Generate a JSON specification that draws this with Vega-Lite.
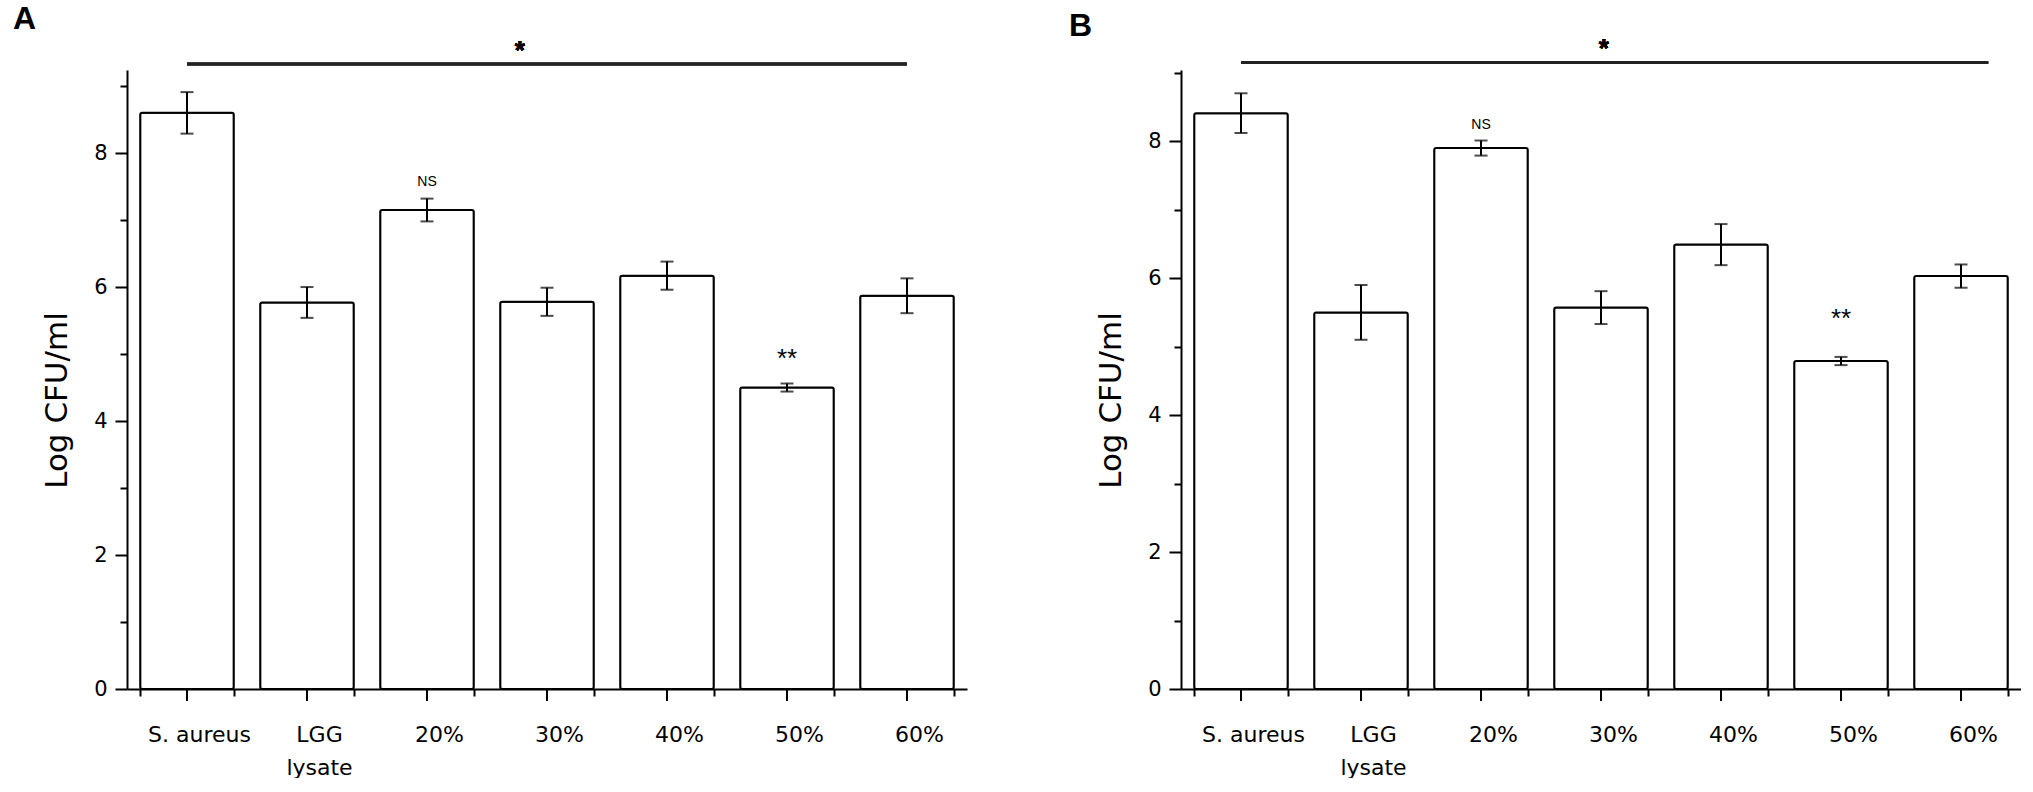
{
  "$schema": "https://vega.github.io/schema/vega-lite/v6.json",
  "background": "white",
  "padding": {"left": 13, "top": 3, "right": 0, "bottom": 0},
  "spacing": 102,
  "config": {
    "view": {"stroke": null},
    "font": "DejaVu Sans",
    "axis": {
      "domainColor": "black",
      "domainWidth": 2,
      "tickColor": "black",
      "tickWidth": 2,
      "labelColor": "black",
      "titleColor": "black",
      "grid": false
    },
    "title": {"font": "Liberation Sans", "fontSize": 32, "fontWeight": "bold", "color": "black", "anchor": "start", "frame": "group"}
  },
  "datasets": {
    "a": [
      {"cat": "S. aureus", "mean": 8.6, "sd": 0.31},
      {"cat": "LGG lysate", "mean": 5.77, "sd": 0.23},
      {"cat": "20%", "mean": 7.15, "sd": 0.17},
      {"cat": "30%", "mean": 5.78, "sd": 0.21},
      {"cat": "40%", "mean": 6.17, "sd": 0.21},
      {"cat": "50%", "mean": 4.5, "sd": 0.06},
      {"cat": "60%", "mean": 5.87, "sd": 0.26}
    ],
    "b": [
      {"cat": "S. aureus", "mean": 8.41, "sd": 0.29},
      {"cat": "LGG lysate", "mean": 5.5, "sd": 0.4},
      {"cat": "20%", "mean": 7.9, "sd": 0.11},
      {"cat": "30%", "mean": 5.57, "sd": 0.24},
      {"cat": "40%", "mean": 6.49, "sd": 0.3},
      {"cat": "50%", "mean": 4.79, "sd": 0.06},
      {"cat": "60%", "mean": 6.03, "sd": 0.17}
    ],
    "a_sig": [
      {"cat": "20%", "label": "NS", "y": 7.57},
      {"cat": "50%", "label": "**", "y": 4.93}
    ],
    "b_sig": [
      {"cat": "20%", "label": "NS", "y": 8.24},
      {"cat": "50%", "label": "**", "y": 5.41}
    ]
  },
  "hconcat": [
    {
      "width": 840,
      "height": 619,
      "title": {"text": "A", "dx": -114, "offset": 2},
      "data": {"name": "a"},
      "encoding": {
        "x": {
          "field": "cat", "type": "nominal", "sort": null,
          "scale": {"paddingInner": 0.22, "paddingOuter": 0.11},
          "axis": {
            "title": null, "tickBand": "extent", "tickSize": 7, "labelAngle": 0,
            "labelFontSize": 22, "labelPadding": 28, "labelOffset": 12, "labelLineHeight": 33,
            "labelExpr": "datum.label == 'LGG lysate' ? ['LGG', 'lysate'] : datum.label"
          }
        }
      },
      "layer": [
        {
          "mark": {"type": "bar", "fill": "white", "stroke": "black", "strokeWidth": 2, "cornerRadius": 2},
          "encoding": {
            "y": {
              "field": "mean", "type": "quantitative", "title": "Log CFU/ml",
              "scale": {"domain": [0, 9.24], "nice": false},
              "axis": {
                "values": [0, 1, 2, 3, 4, 5, 6, 7, 8, 9],
                "format": "d",
                "labelExpr": "datum.value % 2 == 0 ? datum.label : ''",
                "tickSize": {"condition": {"test": "datum.value % 2 == 0", "value": 12}, "value": 7},
                "labelFontSize": 21, "labelPadding": 8,
                "titleFontSize": 31, "titleFontWeight": "normal", "titlePadding": 20, "titleY": 330
              }
            }
          }
        },
        {
          "mark": {"type": "errorbar", "color": "black", "thickness": 2, "size": 13, "ticks": true},
          "encoding": {
            "y": {"field": "mean", "type": "quantitative", "title": "Log CFU/ml"},
            "yError": {"field": "sd"}
          }
        },
        {
          "mark": {"type": "rule", "color": "black", "strokeWidth": 2},
          "encoding": {"y": {"datum": 0}, "y2": {"datum": -0.18}}
        },
        {
          "mark": {"type": "rule", "color": "#222", "strokeWidth": 2.5},
          "encoding": {
            "x": {"datum": "S. aureus"},
            "x2": {"datum": "60%"},
            "y": {"datum": 9.33}
          }
        },
        {
          "mark": {"type": "text", "text": "*", "font": "Liberation Sans", "fontSize": 26, "fontWeight": "bold", "baseline": "middle", "color": "black"},
          "encoding": {
            "x": {"datum": "30%", "bandPosition": 0.21},
            "y": {"datum": 9.52}
          }
        },
        {
          "data": {"name": "a_sig"},
          "mark": {"type": "text", "font": "Liberation Sans", "baseline": "middle", "color": "black"},
          "encoding": {
            "x": {"field": "cat", "type": "nominal"},
            "y": {"field": "y", "type": "quantitative"},
            "text": {"field": "label"},
            "size": {"condition": {"test": "datum.label == 'NS'", "value": 14}, "value": 26},
            "fontWeight": {"condition": {"test": "datum.label == 'NS'", "value": "normal"}, "value": "bold"}
          }
        }
      ]
    },
    {
      "width": 840,
      "height": 619,
      "title": {"text": "B", "dx": -112, "offset": -7},
      "data": {"name": "b"},
      "encoding": {
        "x": {
          "field": "cat", "type": "nominal", "sort": null,
          "scale": {"paddingInner": 0.22, "paddingOuter": 0.11},
          "axis": {
            "title": null, "tickBand": "extent", "tickSize": 7, "labelAngle": 0,
            "labelFontSize": 22, "labelPadding": 28, "labelOffset": 12, "labelLineHeight": 33,
            "labelExpr": "datum.label == 'LGG lysate' ? ['LGG', 'lysate'] : datum.label"
          }
        }
      },
      "layer": [
        {
          "mark": {"type": "bar", "fill": "white", "stroke": "black", "strokeWidth": 2, "cornerRadius": 2},
          "encoding": {
            "y": {
              "field": "mean", "type": "quantitative", "title": "Log CFU/ml",
              "scale": {"domain": [0, 9.04], "nice": false},
              "axis": {
                "values": [0, 1, 2, 3, 4, 5, 6, 7, 8, 9],
                "format": "d",
                "labelExpr": "datum.value % 2 == 0 ? datum.label : ''",
                "tickSize": {"condition": {"test": "datum.value % 2 == 0", "value": 12}, "value": 7},
                "labelFontSize": 21, "labelPadding": 8,
                "titleFontSize": 31, "titleFontWeight": "normal", "titlePadding": 20, "titleY": 330
              }
            }
          }
        },
        {
          "mark": {"type": "errorbar", "color": "black", "thickness": 2, "size": 13, "ticks": true},
          "encoding": {
            "y": {"field": "mean", "type": "quantitative", "title": "Log CFU/ml"},
            "yError": {"field": "sd"}
          }
        },
        {
          "mark": {"type": "rule", "color": "black", "strokeWidth": 2},
          "encoding": {"y": {"datum": 0}, "y2": {"datum": -0.175}}
        },
        {
          "mark": {"type": "rule", "color": "#222", "strokeWidth": 2.5},
          "encoding": {
            "x": {"datum": "S. aureus"},
            "x2": {"datum": "60%", "bandPosition": 0.79},
            "y": {"datum": 9.15}
          }
        },
        {
          "mark": {"type": "text", "text": "*", "font": "Liberation Sans", "fontSize": 26, "fontWeight": "bold", "baseline": "middle", "color": "black"},
          "encoding": {
            "x": {"datum": "30%", "bandPosition": 0.53},
            "y": {"datum": 9.35}
          }
        },
        {
          "data": {"name": "b_sig"},
          "mark": {"type": "text", "font": "Liberation Sans", "baseline": "middle", "color": "black"},
          "encoding": {
            "x": {"field": "cat", "type": "nominal"},
            "y": {"field": "y", "type": "quantitative"},
            "text": {"field": "label"},
            "size": {"condition": {"test": "datum.label == 'NS'", "value": 14}, "value": 26},
            "fontWeight": {"condition": {"test": "datum.label == 'NS'", "value": "normal"}, "value": "bold"}
          }
        }
      ]
    }
  ]
}
